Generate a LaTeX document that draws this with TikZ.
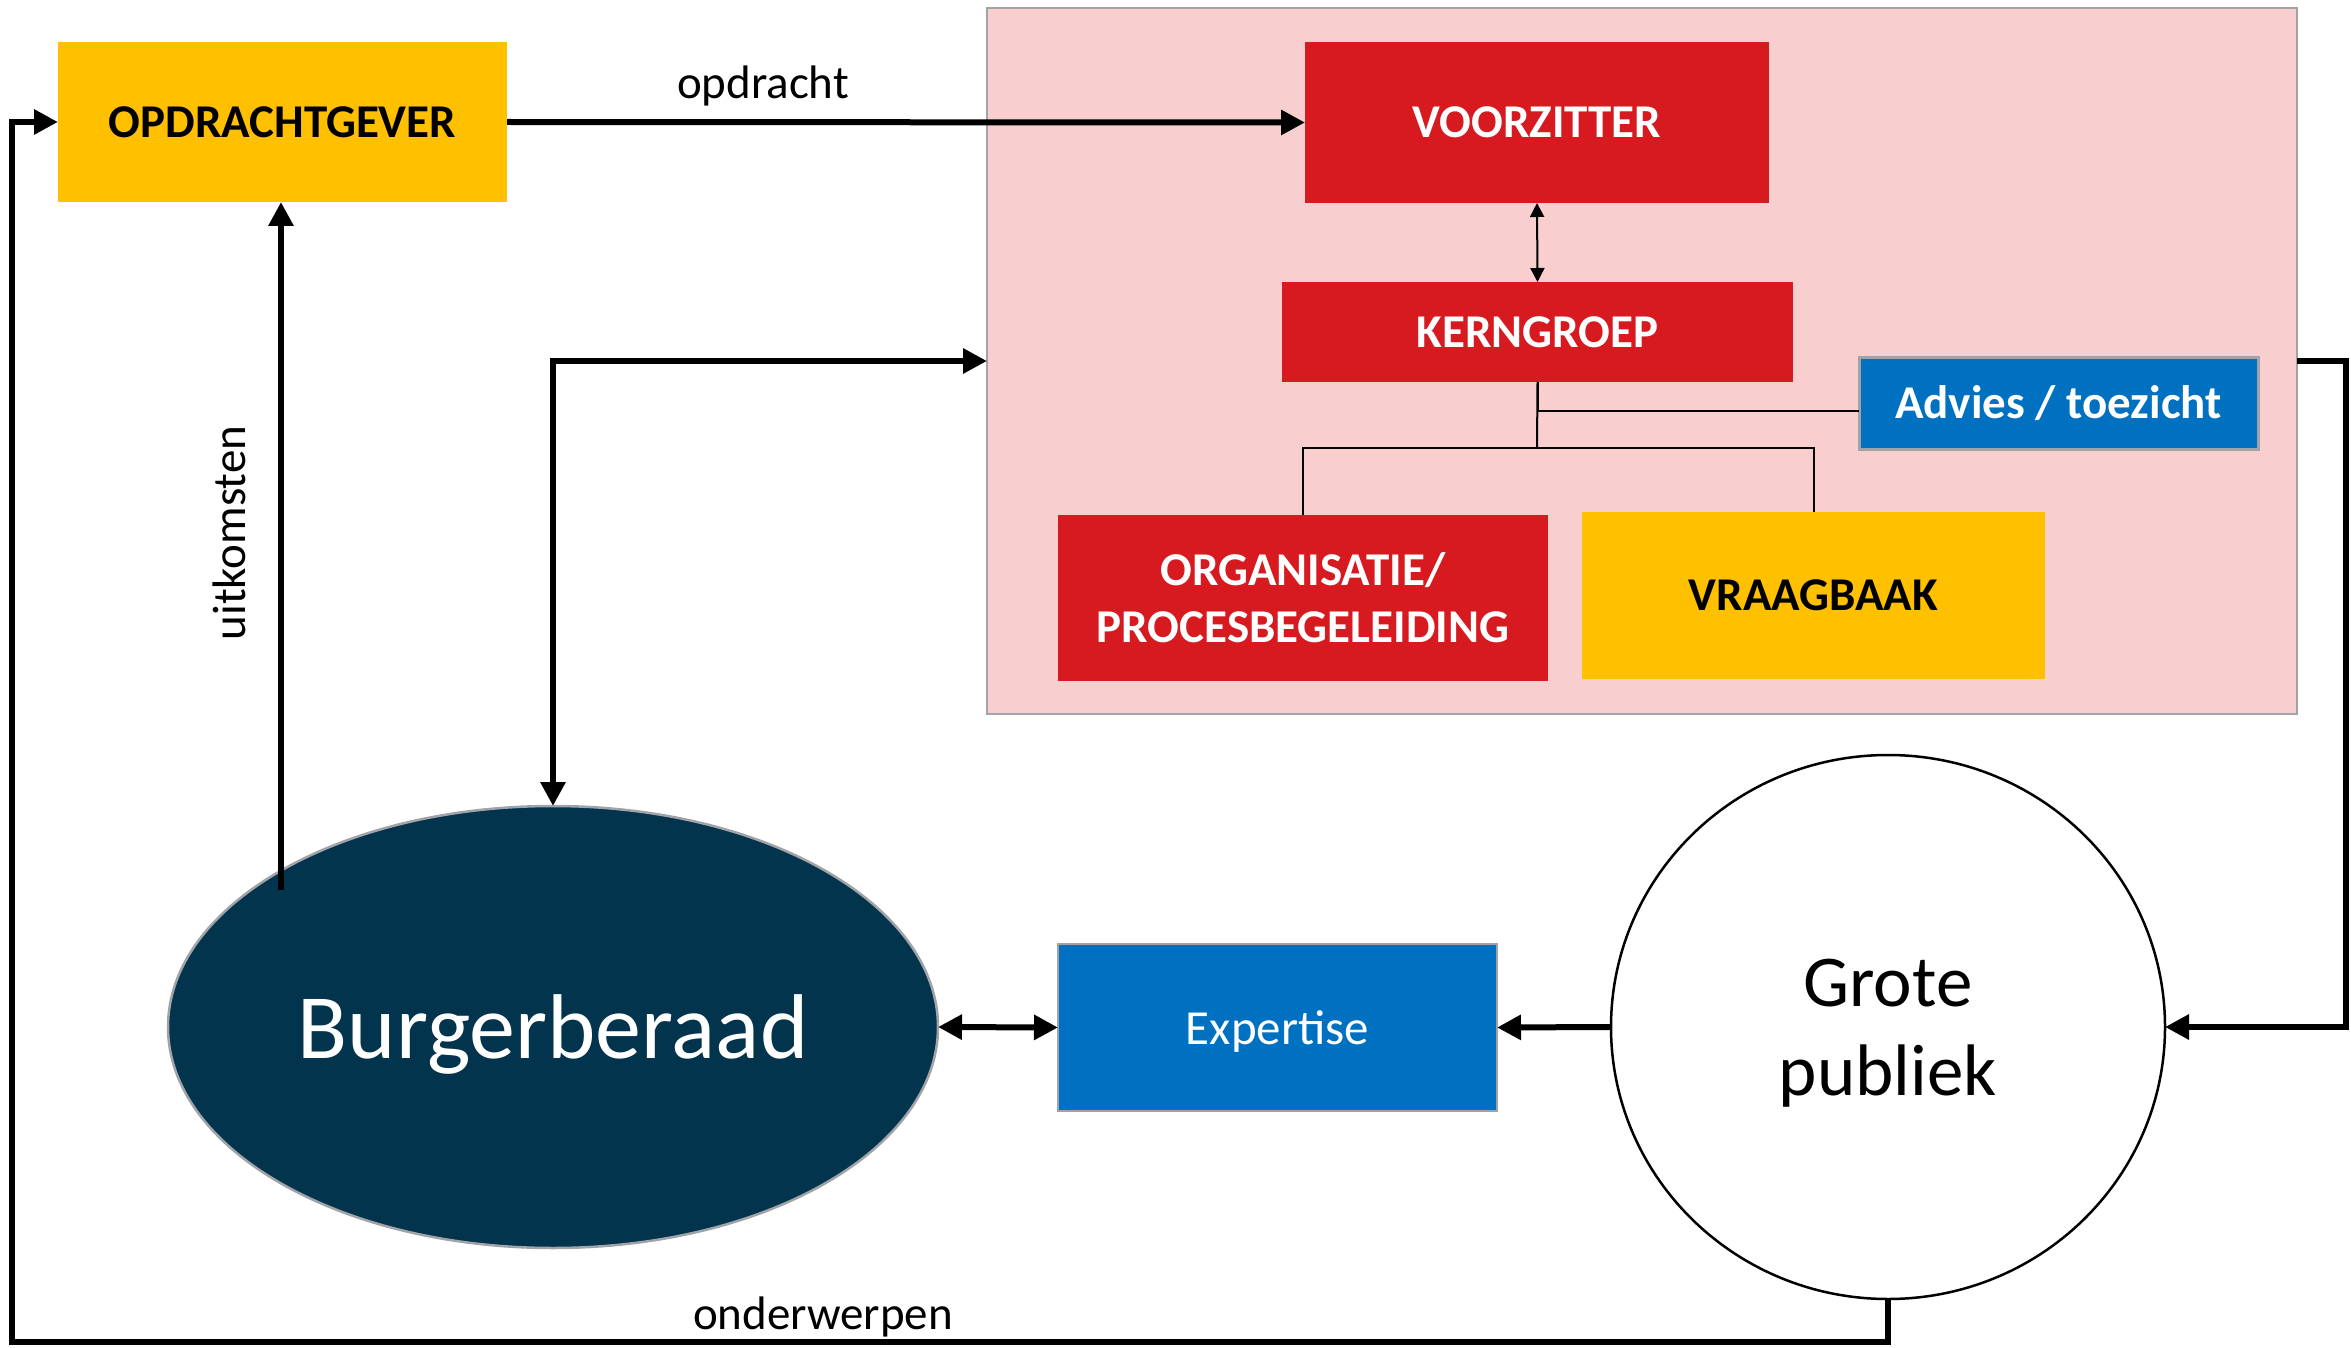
\documentclass[tikz,border=0pt]{standalone}
\usepackage{fontspec}
\setmainfont{Carlito}
\usetikzlibrary{arrows.meta,shapes.geometric}
\definecolor{cyellow}{HTML}{FFC000}
\definecolor{cred}{HTML}{D71920}
\definecolor{cpink}{HTML}{F8CECE}
\definecolor{cblue}{HTML}{0070C0}
\definecolor{cnavy}{HTML}{03344D}
\definecolor{cgray}{HTML}{A0A4A8}
\begin{document}
\begin{tikzpicture}[x=1pt,y=-1pt,
  box/.style={rectangle,inner sep=0pt,outer sep=0pt,align=center,
    font=\fontsize{47}{57}\selectfont\bfseries},
  lbl/.style={inner sep=0pt,font=\fontsize{47}{57}\selectfont},
  bigarrow/.style={line width=6pt,-{Triangle[length=24pt,width=24pt]}},
  bigboth/.style={line width=6pt,{Triangle[length=24pt,width=24pt]}-{Triangle[length=24pt,width=24pt]}},
  thinline/.style={line width=2pt},
]
\useasboundingbox (0,0) rectangle (2351,1348);
% container
\node[rectangle,draw=cgray,line width=2.5pt,fill=cpink,minimum width=1310pt,minimum height=706pt,inner sep=0pt,outer sep=0pt] (pink) at (1642,361) {};
% boxes
\node[box,fill=cyellow,minimum width=449pt,minimum height=160pt] (og) at (282.5,122) {OPDRACHTGEVER};
\node[box,fill=cred,text=white,minimum width=464pt,minimum height=161pt] (vz) at (1537,122.5) {VOORZITTER};
\node[box,fill=cred,text=white,minimum width=511pt,minimum height=100pt] (kg) at (1537.5,332) {KERNGROEP};
\node[box,fill=cblue,draw=cgray,line width=3pt,text=white,minimum width=399pt,minimum height=92pt] (adv) at (2058.5,403) {Advies / toezicht};
\node[box,fill=cred,text=white,minimum width=490pt,minimum height=166pt] (org) at (1303,598) {ORGANISATIE/\\PROCESBEGELEIDING};
\node[box,fill=cyellow,minimum width=463pt,minimum height=167pt] (vb) at (1813.5,595.5) {VRAAGBAAK};
\node[box,fill=cblue,draw=cgray,line width=2.5pt,text=white,minimum width=439pt,minimum height=167pt,text depth=0pt,font=\fontsize{49}{57}\selectfont] (ex) at (1277.5,1027.5) {Expertise};
\node[ellipse,fill=cnavy,draw=cgray,line width=2.5pt,text=white,inner sep=0pt,outer sep=0pt,minimum width=770pt,minimum height=442pt,text depth=0pt,font=\fontsize{92}{110}\selectfont] (bb) at (553,1027) {Burgerberaad};
\node[ellipse,fill=white,draw=black,line width=2.5pt,inner sep=0pt,outer sep=0pt,minimum width=554pt,minimum height=544pt,align=center,text depth=0pt,font=\fontsize{73}{89}\selectfont] (gp) at (1888,1027) {Grote\\publiek};
% coordinates
\coordinate (rc) at (2346,361);
\coordinate (bl) at (12,1342);
\coordinate (us) at (281,890);
\coordinate (kj) at (1537,448);
% connectors
\draw[bigarrow] (og.east) -- (vz.west);
\draw[thinline,{Triangle[length=14pt,width=14pt]}-{Triangle[length=14pt,width=14pt]}] (vz.south) -- (kg.north);
\draw[thinline] (kg.south) -- (kj);
\draw[thinline] ([yshift=-8pt]adv.west) -| (kg.south);
\draw[thinline] (org.north) |- (kj) -| (vb.north);
\draw[bigboth] (bb.north) |- (pink.west);
\draw[bigarrow] (pink.east) -- (rc) |- (gp.east);
\draw[bigarrow] (gp.west) -- (ex.east);
\draw[bigboth] (bb.east) -- (ex.west);
\draw[bigarrow] (us) -- (us |- og.south);
\draw[bigarrow] (gp.south) |- (bl) |- (og.west);
% labels
\node[lbl,anchor=base] (lop) at (763,99) {opdracht};
\node[lbl,anchor=base] (lond) at (823,1329) {onderwerpen};
\node[lbl,anchor=base,rotate=90] (luit) at (245,533) {uitkomsten};
\end{tikzpicture}
\end{document}
